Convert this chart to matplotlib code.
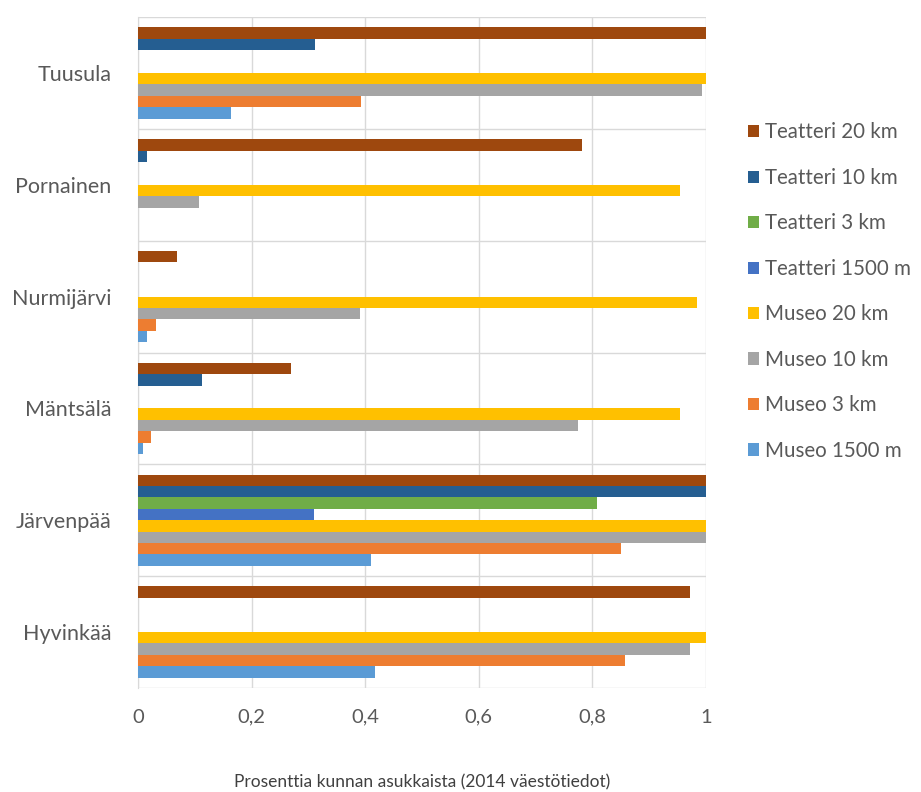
import matplotlib
matplotlib.use("Agg")
import matplotlib.pyplot as plt
from matplotlib.ticker import FixedLocator, FuncFormatter
from matplotlib.patches import Patch
import numpy as np

plt.rcParams['font.family'] = ['Lato', 'DejaVu Sans']

categories = ["Hyvinkää", "Järvenpää", "Mäntsälä", "Nurmijärvi", "Pornainen", "Tuusula"]
# series listed bottom-to-top within each group
series_names = ["Museo 1500 m", "Museo 3 km", "Museo 10 km", "Museo 20 km",
                "Teatteri 1500 m", "Teatteri 3 km", "Teatteri 10 km", "Teatteri 20 km"]
museo_1500 = [0.418, 0.411, 0.009, 0.016, 0.0, 0.164]
museo_3 = [0.858, 0.850, 0.023, 0.031, 0.0, 0.393]
museo_10 = [0.972, 1.0, 0.774, 0.390, 0.108, 0.993]
museo_20 = [1.0, 1.0, 0.954, 0.985, 0.954, 1.0]
teatteri_1500 = [0.0, 0.309, 0.0, 0.0, 0.0, 0.0]
teatteri_3 = [0.0, 0.808, 0.0, 0.0, 0.0, 0.0]
teatteri_10 = [0.0, 1.0, 0.112, 0.0, 0.016, 0.312]
teatteri_20 = [0.972, 1.0, 0.270, 0.069, 0.781, 1.0]
series_values = [museo_1500, museo_3, museo_10, museo_20,
                 teatteri_1500, teatteri_3, teatteri_10, teatteri_20]
colors = ["#5B9BD5", "#ED7D31", "#A5A5A5", "#FFC000",
          "#4472C4", "#70AD47", "#255E91", "#9E480E"]
x_ticks = [0, 0.2, 0.4, 0.6, 0.8, 1.0]
x_label = "Prosenttia kunnan asukkaista (2014 väestötiedot)"

fig = plt.figure(figsize=(9.21, 7.92), dpi=100)
ax = fig.add_axes([138/921, 1-688/792, (706-138)/921, (688-17)/792])

n = len(series_names)
bh = 0.102
y = np.arange(len(categories))
for i, (name, vals, c) in enumerate(zip(series_names, series_values, colors)):
    offs = (i - (n - 1) / 2) * bh
    ax.barh(y + offs, vals, height=bh, color=c, label=name, zorder=3)

ax.set_xlim(0, 1)
ax.set_ylim(-0.5, len(categories) - 0.5)
ax.xaxis.set_major_locator(FixedLocator(x_ticks))
ax.xaxis.set_major_formatter(FuncFormatter(lambda v, p: ("%g" % v).replace(".", ",")))
ax.set_yticks(y)
ax.set_yticklabels(categories, fontsize=15.5)
ax.yaxis.set_minor_locator(FixedLocator(np.arange(-0.5, len(categories), 1.0)))
ax.grid(axis='x', which='major', color='#D9D9D9', linewidth=1, zorder=0)
ax.grid(axis='y', which='minor', color='#D9D9D9', linewidth=1, zorder=0)
ax.tick_params(axis='both', which='both', length=0, colors='#595959')
ax.tick_params(axis='x', pad=15, labelsize=14.5)
ax.tick_params(axis='y', pad=19)
for s in ['top', 'right', 'bottom']:
    ax.spines[s].set_visible(False)
ax.spines['left'].set_color('#D9D9D9')
ax.set_xlabel(x_label, fontsize=12.5, color='#404040', labelpad=35)

handles = [Patch(facecolor=c, label=nm) for nm, c in zip(series_names, colors)][::-1]
fig.legend(handles=handles, loc='upper left', bbox_to_anchor=(729/921, 1-104/792),
           frameon=False, fontsize=14.8, labelspacing=1.24, handlelength=0.55,
           handleheight=0.55, handletextpad=0.3, labelcolor='#595959')

fig.savefig("out.png", dpi=100)
